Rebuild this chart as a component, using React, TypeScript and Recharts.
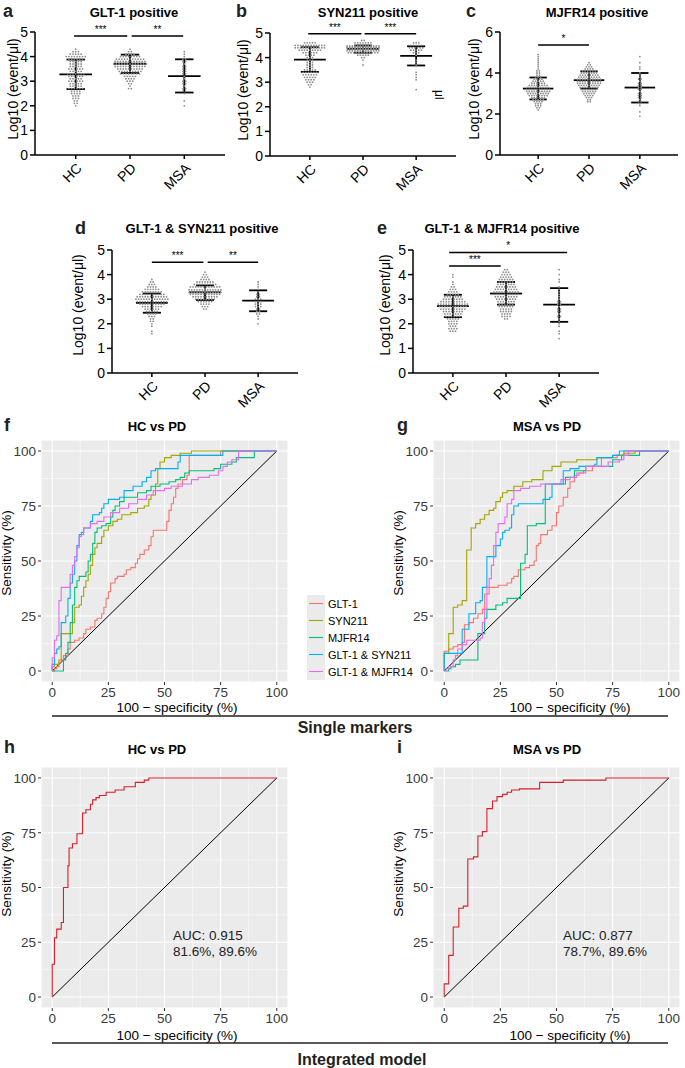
import React from 'react';
import { ScatterChart, Scatter, LineChart, Line, XAxis, YAxis, CartesianGrid, ReferenceLine } from 'recharts';

const FONT = '"Liberation Sans", Arial, sans-serif';

const groups = ['HC', 'PD', 'MSA'];

// dot counts per 0.1 log10 bin, first bin value in `from`
const aHC = { from: 2.0, counts: [1, 2, 2, 3, 3, 4, 4, 6, 5, 5, 6, 5, 6, 7, 5, 6, 5, 5, 5, 6, 8, 5, 3, 1] };
const aPD = { from: 2.7, counts: [2, 1, 2, 3, 4, 5, 8, 9, 10, 12, 13, 12, 11, 8, 4, 2, 1] };
const aMSA = { from: 2.0, counts: [1, 0, 1, 0, 0, 1, 2, 2, 1, 2, 2, 1, 1, 2, 2, 2, 2, 1, 2, 2, 1, 1, 1] };
const aMean = [3.28, 3.71, 3.21];
const aHigh = [3.88, 4.08, 3.89];
const aLow = [2.68, 3.33, 2.54];

const bHC = { from: 2.8, counts: [1, 2, 3, 4, 5, 6, 6, 5, 3, 3, 3, 3, 3, 4, 6, 9, 12, 12, 5] };
const bPD = { from: 3.7, counts: [1, 0, 1, 2, 5, 12, 22, 26, 18, 7, 2] };
const bMSA = { from: 2.7, counts: [1, 0, 0, 0, 1, 1, 1, 1, 0, 0, 1, 1, 1, 0, 1, 3, 5, 6, 5, 3] };
const bMean = [3.92, 4.36, 4.07];
const bHigh = [4.42, 4.49, 4.46];
const bLow = [3.42, 4.2, 3.68];

const cHC = { from: 2.2, counts: [1, 2, 3, 3, 4, 5, 6, 8, 9, 10, 10, 9, 8, 6, 5, 4, 3, 2, 2, 2, 1, 1, 1, 1, 1, 1, 1, 1] };
const cPD = { from: 2.6, counts: [2, 2, 3, 4, 5, 6, 7, 8, 9, 10, 10, 10, 9, 8, 7, 6, 4, 3, 2, 1] };
const cMSA = { from: 1.9, counts: [1, 0, 1, 0, 0, 1, 1, 2, 1, 2, 2, 2, 1, 2, 2, 2, 2, 1, 2, 1, 1, 1, 0, 1, 1, 0, 1, 0, 0, 1] };
const cMean = [3.24, 3.65, 3.29];
const cHigh = [3.78, 4.08, 4.0];
const cLow = [2.71, 3.24, 2.56];

const dHC = { from: 1.6, counts: [1, 1, 0, 1, 1, 2, 2, 3, 4, 5, 6, 8, 10, 12, 13, 12, 10, 8, 6, 4, 3, 2, 1] };
const dPD = { from: 2.6, counts: [2, 3, 4, 6, 8, 10, 12, 14, 14, 12, 9, 7, 4, 3, 2, 1] };
const dMSA = { from: 2.0, counts: [1, 0, 1, 1, 2, 2, 2, 3, 3, 3, 3, 2, 2, 1, 1, 1, 1, 1] };
const dMean = [2.85, 3.28, 2.94];
const dHigh = [3.23, 3.56, 3.36];
const dLow = [2.45, 2.97, 2.51];

const eHC = { from: 1.7, counts: [3, 4, 3, 4, 4, 5, 6, 7, 8, 10, 11, 12, 10, 8, 7, 5, 4, 3, 2, 1, 1, 0, 1, 1] };
const ePD = { from: 2.2, counts: [2, 4, 4, 5, 5, 6, 6, 7, 8, 9, 10, 10, 9, 8, 7, 6, 6, 5, 4, 3, 2] };
const eMSA = { from: 1.4, counts: [1, 0, 1, 1, 0, 1, 1, 1, 1, 2, 1, 2, 2, 1, 2, 2, 1, 1, 1, 1, 1, 1, 0, 1, 1, 0, 1, 0, 1] };
const eMean = [2.72, 3.23, 2.78];
const eHigh = [3.18, 3.7, 3.45];
const eLow = [2.27, 2.78, 2.08];

const aSig = [{ x1: 0.97, x2: 1.95, y: 4.84, text: '***' }, { x1: 2.03, x2: 2.98, y: 4.84, text: '**' }];
const bSig = [{ x1: 0.97, x2: 1.97, y: 4.97, text: '***' }, { x1: 2.03, x2: 3.0, y: 4.97, text: '***' }];
const cSig = [{ x1: 1.0, x2: 2.0, y: 5.37, text: '*' }];
const dSig = [{ x1: 1.0, x2: 1.97, y: 4.5, text: '***' }, { x1: 2.05, x2: 3.0, y: 4.5, text: '**' }];
const eSig = [{ x1: 0.93, x2: 3.15, y: 4.9, text: '*' }, { x1: 0.93, x2: 1.9, y: 4.35, text: '***' }];

// ROC curves: [100 - specificity, sensitivity] at each step
const markerNames = ['GLT-1', 'SYN211', 'MJFR14', 'GLT-1 & SYN211', 'GLT-1 & MJFR14'];
const markerColors = ['#F8766D', '#A3A500', '#00BF7D', '#00B0F6', '#E76BF3'];

const fGlt1 = [[0, 0], [1, 1], [2, 2], [3, 4], [4, 5], [5, 7], [7, 10], [8, 13], [10, 14], [12, 15], [14, 17], [15, 19], [17, 20], [19, 23], [20, 24], [22, 26], [23, 29], [24, 33], [25, 36], [26, 40], [28, 42], [29, 43], [32, 44], [33, 46], [35, 47], [37, 49], [38, 51], [39, 53], [41, 55], [43, 57], [44, 61], [45, 64], [50, 64], [51, 68], [52, 73], [53, 76], [54, 79], [55, 83], [56, 85], [58, 87], [60, 89], [61, 98], [66, 98], [75, 100], [100, 100]];
const fSyn = [[0, 0], [0, 2], [1, 3], [3, 5], [4, 17], [8, 17], [9, 22], [10, 29], [12, 30], [13, 34], [14, 38], [15, 41], [16, 44], [17, 48], [18, 53], [19, 56], [20, 58], [22, 61], [23, 64], [25, 66], [27, 68], [29, 69], [31, 71], [35, 72], [38, 74], [41, 75], [43, 78], [44, 80], [46, 85], [47, 92], [48, 95], [50, 97], [53, 98], [57, 99], [62, 100], [100, 100]];
const fMjfr = [[0, 0], [4, 0], [5, 5], [6, 8], [7, 13], [8, 22], [9, 30], [10, 38], [11, 41], [12, 43], [15, 45], [16, 50], [17, 53], [18, 58], [19, 63], [20, 65], [22, 66], [24, 67], [26, 70], [27, 73], [28, 75], [30, 77], [32, 79], [38, 81], [42, 82], [44, 84], [48, 85], [52, 86], [55, 87], [57, 88], [59, 90], [61, 91], [68, 91], [72, 92], [75, 94], [80, 95], [82, 97], [86, 97], [90, 100], [100, 100]];
const fGs = [[0, 0], [0, 3], [1, 8], [2, 10], [3, 11], [4, 22], [6, 25], [7, 33], [8, 40], [9, 44], [10, 50], [11, 57], [12, 62], [13, 63], [14, 65], [17, 68], [18, 71], [21, 72], [22, 74], [23, 76], [25, 78], [30, 79], [32, 82], [36, 84], [40, 86], [42, 88], [44, 91], [46, 92], [52, 92], [56, 95], [57, 98], [70, 98], [76, 100], [100, 100]];
const fGm = [[0, 0], [0, 6], [1, 14], [2, 16], [3, 32], [4, 38], [8, 38], [8, 44], [9, 48], [10, 52], [11, 56], [12, 61], [13, 62], [14, 65], [17, 67], [20, 68], [23, 70], [26, 72], [30, 74], [34, 76], [38, 78], [42, 80], [45, 82], [50, 83], [53, 84], [58, 85], [62, 87], [65, 88], [70, 89], [74, 91], [76, 93], [78, 95], [80, 96], [83, 100], [100, 100]];

const gGlt1 = [[0, 0], [0, 9], [2, 10], [4, 11], [6, 12], [8, 13], [9, 21], [11, 22], [13, 24], [15, 26], [17, 28], [18, 35], [20, 38], [24, 39], [28, 40], [30, 42], [31, 43], [33, 46], [36, 47], [38, 48], [40, 50], [41, 57], [42, 58], [43, 62], [46, 64], [48, 66], [50, 72], [51, 75], [53, 79], [55, 83], [56, 86], [58, 89], [60, 90], [62, 91], [66, 93], [70, 97], [77, 98], [80, 100], [100, 100]];
const gSyn = [[0, 0], [0, 8], [2, 17], [4, 29], [6, 30], [8, 32], [10, 55], [12, 65], [14, 67], [16, 69], [18, 71], [20, 73], [22, 74], [23, 77], [25, 79], [26, 81], [28, 82], [31, 84], [35, 86], [39, 87], [44, 87], [44, 91], [48, 93], [52, 95], [59, 96], [68, 97], [75, 98], [80, 99], [85, 100], [100, 100]];
const gMjfr = [[0, 0], [2, 1], [3, 2], [5, 3], [7, 5], [15, 5], [15, 17], [18, 24], [19, 28], [23, 30], [26, 31], [28, 33], [34, 34], [34, 49], [36, 53], [37, 66], [41, 67], [45, 67], [45, 85], [50, 85], [54, 88], [58, 91], [63, 93], [70, 93], [75, 96], [79, 98], [87, 100], [100, 100]];
const gGs = [[0, 0], [0, 8], [8, 8], [8, 19], [11, 19], [11, 26], [14, 27], [14, 31], [16, 32], [17, 38], [19, 39], [19, 52], [22, 52], [23, 57], [25, 60], [26, 63], [27, 64], [29, 65], [30, 71], [31, 75], [33, 76], [43, 76], [44, 78], [47, 79], [48, 85], [53, 85], [53, 91], [56, 92], [60, 93], [67, 94], [68, 97], [75, 98], [78, 100], [100, 100]];
const gGm = [[0, 0], [0, 1], [2, 2], [4, 5], [5, 7], [6, 10], [8, 12], [10, 14], [14, 14], [16, 15], [17, 22], [18, 28], [19, 38], [20, 42], [21, 48], [22, 57], [23, 63], [24, 67], [27, 70], [28, 76], [30, 78], [31, 82], [34, 83], [38, 84], [43, 85], [48, 85], [52, 87], [56, 88], [59, 90], [63, 93], [70, 93], [73, 95], [78, 96], [80, 98], [82, 100], [100, 100]];

const hModel = [[0, 0], [0, 15], [1, 27], [2, 31], [4, 34], [5, 50], [7, 60], [7.5, 68], [9, 70], [11, 74.5], [13.5, 84], [15, 85.5], [17, 88], [18, 90], [19.5, 91], [21, 92], [24, 93.5], [28, 94.5], [32, 96], [37, 98], [41, 99], [43, 100], [100, 100]];
const iModel = [[0, 0], [0, 6], [2, 19], [4, 32], [6.5, 40.5], [8.5, 41.5], [10.5, 63], [13, 64], [15, 73.5], [17, 75.5], [19, 86], [21.5, 89.5], [23.5, 91.5], [26, 92.5], [28, 93.5], [30, 94.5], [33.5, 95], [42.5, 98], [53, 99], [72, 100], [100, 100]];
const modelColor = '#D6202E';

const rocTicks = [0, 25, 50, 75, 100];
const rocMinor = [12.5, 37.5, 62.5, 87.5];
const diagonal = [[0, 0], [100, 100]];

type Bins = { from: number; counts: number[] };
type Sig = { x1: number; x2: number; y: number; text: string };

const BIN = 0.1;
const ROW_MAX = 13;
const DOT_GAP = 0.05;

function swarm(cat: number, bins: Bins) {
  const pts: { x: number; y: number }[] = [];
  bins.counts.forEach((n, i) => {
    const v = bins.from + i * BIN;
    const rows = Math.ceil(n / ROW_MAX);
    for (let r = 0; r < rows; r++) {
      const m = Math.min(ROW_MAX, n - r * ROW_MAX);
      const yv = v + (r - (rows - 1) / 2) * (BIN / rows);
      for (let j = 0; j < m; j++) pts.push({ x: cat + (j - (m - 1) / 2) * DOT_GAP, y: yv });
    }
  });
  return pts;
}

const toXY = (pairs: number[][]) => pairs.map(([x, y]) => ({ x, y }));

const Dot = (p: any) => <circle cx={p.cx} cy={p.cy} r={0.9} fill="#8c8c8c" />;

function DotPanel({ axisX, plotTop, plotW, yMax, yTicks, bins, mean, high, low, sig }: {
  axisX: number; plotTop: number; plotW: number; yMax: number; yTicks: number[];
  bins: Bins[]; mean: number[]; high: number[]; low: number[]; sig: Sig[];
}) {
  const segs: { x1: number; x2: number; y1: number; y2: number }[] = [];
  mean.forEach((m, i) => {
    const c = i + 1;
    segs.push({ x1: c - 0.3, x2: c + 0.3, y1: m, y2: m });
    segs.push({ x1: c - 0.17, x2: c + 0.17, y1: high[i], y2: high[i] });
    segs.push({ x1: c - 0.17, x2: c + 0.17, y1: low[i], y2: low[i] });
    segs.push({ x1: c, x2: c, y1: low[i], y2: high[i] });
  });
  return (
    <div style={{ position: 'absolute', left: axisX - 35, top: plotTop - 20 }}>
      <ScatterChart width={35 + plotW + 5} height={20 + 123 + 45} margin={{ top: 20, right: 5, left: 0, bottom: 0 }}>
        <XAxis type="number" dataKey="x" domain={[0.25, 3.75]} ticks={[1, 2, 3]} allowDataOverflow height={45}
          axisLine={{ stroke: '#000', strokeWidth: 1.5 }} tickLine={{ stroke: '#000', strokeWidth: 1.5 }} tickSize={4}
          tickMargin={3} angle={-45} textAnchor="end" interval={0}
          tick={{ fill: '#000', fontSize: 14, textAnchor: 'end' }}
          tickFormatter={(v: number) => groups[v - 1]} />
        <YAxis type="number" dataKey="y" domain={[0, yMax]} ticks={yTicks} allowDataOverflow width={35}
          axisLine={{ stroke: '#000', strokeWidth: 1.5 }} tickLine={{ stroke: '#000', strokeWidth: 1.5 }} tickSize={5}
          tickMargin={2} tick={{ fill: '#000', fontSize: 14 }} interval={0} />
        {bins.map((b, i) => (
          <Scatter key={i} data={swarm(i + 1, b)} shape={Dot} isAnimationActive={false} />
        ))}
        {segs.map((s, i) => (
          <ReferenceLine key={'m' + i} segment={[{ x: s.x1, y: s.y1 }, { x: s.x2, y: s.y2 }]} stroke="#000" strokeWidth={1.8} />
        ))}
        {sig.map((s, i) => (
          <ReferenceLine key={'s' + i} segment={[{ x: s.x1, y: s.y }, { x: s.x2, y: s.y }]} stroke="#000" strokeWidth={1.5}
            label={{ value: s.text, position: 'top', fill: '#000', fontSize: 10, offset: 3 }} />
        ))}
      </ScatterChart>
    </div>
  );
}

function RocPanel({ left, top, plotH, curves }: {
  left: number; top: number; plotH: number; curves: { data: number[][]; color: string; name: string }[];
}) {
  return (
    <div style={{ position: 'absolute', left, top: top - 10 }}>
      <LineChart width={41 + 247 + 2} height={10 + plotH + 20} margin={{ top: 10, right: 2, left: 0, bottom: 0 }}>
        <CartesianGrid fill="#EBEBEB" stroke="#fff" strokeWidth={0.5} horizontalValues={rocMinor} verticalValues={rocMinor} />
        <CartesianGrid stroke="#fff" strokeWidth={1.1} />
        <XAxis type="number" dataKey="x" domain={[-5, 105]} ticks={rocTicks} allowDataOverflow height={20}
          axisLine={false} tickLine={{ stroke: '#333' }} tickSize={3} tickMargin={2}
          tick={{ fill: '#3a3a3a', fontSize: 13.5 }} interval={0} />
        <YAxis type="number" dataKey="y" domain={[-5, 105]} ticks={rocTicks} allowDataOverflow width={41}
          axisLine={false} tickLine={{ stroke: '#333' }} tickSize={3} tickMargin={2}
          tick={{ fill: '#3a3a3a', fontSize: 13.5 }} interval={0} />
        <Line data={toXY(diagonal)} dataKey="y" type="linear" stroke="#000" strokeWidth={1} dot={false} isAnimationActive={false} />
        {curves.map((c) => (
          <Line key={c.name} name={c.name} data={toXY(c.data)} dataKey="y" type="stepAfter" stroke={c.color}
            strokeWidth={1.1} dot={false} isAnimationActive={false} />
        ))}
      </LineChart>
    </div>
  );
}

const fCurves = [fGlt1, fSyn, fMjfr, fGs, fGm].map((d, i) => ({ data: d, color: markerColors[i], name: markerNames[i] }));
const gCurves = [gGlt1, gSyn, gMjfr, gGs, gGm].map((d, i) => ({ data: d, color: markerColors[i], name: markerNames[i] }));

export default function App() {
  const letter = { fontSize: 18, fontWeight: 700, fill: '#231F20' } as const;
  const title = { fontSize: 13, fontWeight: 700, fill: '#000', textAnchor: 'middle' } as const;
  const ylab = { fontSize: 14, fill: '#000', textAnchor: 'middle' } as const;
  const rlab = { fontSize: 13.5, fill: '#000', textAnchor: 'middle' } as const;
  return (
    <div style={{ position: 'absolute', left: 0, top: 0, width: 685, height: 1068, overflow: 'hidden', background: '#fff', fontFamily: FONT }}>
      <DotPanel axisX={35} plotTop={32} plotW={190} yMax={5} yTicks={[0, 1, 2, 3, 4, 5]}
        bins={[aHC, aPD, aMSA]} mean={aMean} high={aHigh} low={aLow} sig={aSig} />
      <DotPanel axisX={270} plotTop={33} plotW={186} yMax={5} yTicks={[0, 1, 2, 3, 4, 5]}
        bins={[bHC, bPD, bMSA]} mean={bMean} high={bHigh} low={bLow} sig={bSig} />
      <DotPanel axisX={500} plotTop={32} plotW={178} yMax={6} yTicks={[0, 2, 4, 6]}
        bins={[cHC, cPD, cMSA]} mean={cMean} high={cHigh} low={cLow} sig={cSig} />
      <DotPanel axisX={112} plotTop={250} plotW={186} yMax={5} yTicks={[0, 1, 2, 3, 4, 5]}
        bins={[dHC, dPD, dMSA]} mean={dMean} high={dHigh} low={dLow} sig={dSig} />
      <DotPanel axisX={413} plotTop={250} plotW={186} yMax={5} yTicks={[0, 1, 2, 3, 4, 5]}
        bins={[eHC, ePD, eMSA]} mean={eMean} high={eHigh} low={eLow} sig={eSig} />

      <RocPanel left={0} top={440} plotH={242} curves={fCurves} />
      <RocPanel left={392} top={440} plotH={242} curves={gCurves} />
      <RocPanel left={0} top={767} plotH={241} curves={[{ data: hModel, color: modelColor, name: 'model' }]} />
      <RocPanel left={392} top={767} plotH={241} curves={[{ data: iModel, color: modelColor, name: 'model' }]} />

      <svg width={685} height={1068} style={{ position: 'absolute', left: 0, top: 0, pointerEvents: 'none', fontFamily: FONT }}>
        <text x={3} y={17} {...letter}>a</text>
        <text x={236} y={17} {...letter}>b</text>
        <text x={466} y={17} {...letter}>c</text>
        <text x={75} y={234} {...letter}>d</text>
        <text x={377} y={234} {...letter}>e</text>
        <text x={4} y={431} {...letter}>f</text>
        <text x={397} y={431} {...letter}>g</text>
        <text x={4} y={753} {...letter}>h</text>
        <text x={397} y={753} {...letter}>i</text>

        <text x={134} y={17} {...title}>GLT-1 positive</text>
        <text x={368} y={17} {...title}>SYN211 positive</text>
        <text x={597} y={17} {...title}>MJFR14 positive</text>
        <text x={202} y={233} {...title}>GLT-1 &amp; SYN211 positive</text>
        <text x={502} y={233} {...title}>GLT-1 &amp; MJFR14 positive</text>
        <text x={157} y={431} {...title}>HC vs PD</text>
        <text x={547} y={431} {...title}>MSA vs PD</text>
        <text x={157} y={754} {...title}>HC vs PD</text>
        <text x={547} y={754} {...title}>MSA vs PD</text>

        {[[18, 89], [248, 90], [479, 89], [83, 305], [390, 305]].map(([x, y], i) => (
          <text key={i} x={x} y={y} transform={`rotate(-90 ${x} ${y})`} {...ylab}>Log10 (event/μl)</text>
        ))}
        <text x={435} y={90} transform="rotate(90 435 90)" fontSize={12} fill="#000">μl</text>

        {[[11, 553], [403, 553], [11, 874], [403, 874]].map(([x, y], i) => (
          <text key={i} x={x} y={y} transform={`rotate(-90 ${x} ${y})`} {...rlab}>Sensitivity (%)</text>
        ))}
        {[[177, 712], [570, 712], [177, 1040], [570, 1040]].map(([x, y], i) => (
          <text key={i} x={x} y={y} {...rlab}>100 − specificity (%)</text>
        ))}

        {markerNames.map((n, i) => (
          <g key={n}>
            <rect x={307} y={595 + i * 17} width={18} height={17} fill="#EBEBEB" />
            <line x1={309} x2={323} y1={603.5 + i * 17} y2={603.5 + i * 17} stroke={markerColors[i]} strokeWidth={1.1} />
            <text x={328} y={607.5 + i * 17} fontSize={11} fill="#000">{n}</text>
          </g>
        ))}

        <line x1={52} x2={668} y1={716} y2={716} stroke="#231F20" strokeWidth={1.5} />
        <text x={355} y={733} fontSize={16} fontWeight={700} fill="#231F20" textAnchor="middle">Single markers</text>
        <line x1={52} x2={668} y1={1043} y2={1043} stroke="#231F20" strokeWidth={1.5} />
        <text x={362} y={1065} fontSize={16} fontWeight={700} fill="#231F20" textAnchor="middle">Integrated model</text>

        <text x={173} y={940} fontSize={13.5} fill="#222">AUC: 0.915</text>
        <text x={173} y={956} fontSize={13.5} fill="#222">81.6%, 89.6%</text>
        <text x={563} y={940} fontSize={13.5} fill="#222">AUC: 0.877</text>
        <text x={563} y={956} fontSize={13.5} fill="#222">78.7%, 89.6%</text>
      </svg>
    </div>
  );
}
